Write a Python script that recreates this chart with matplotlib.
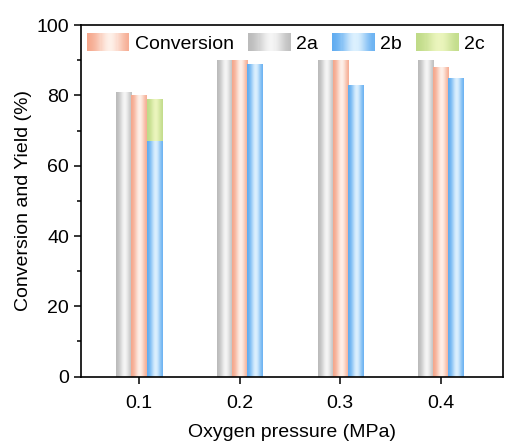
import numpy as np
import matplotlib
matplotlib.use("Agg")
import matplotlib.pyplot as plt
from matplotlib.patches import Rectangle
from matplotlib.legend_handler import HandlerBase

plt.rcParams['font.family'] = ['Liberation Sans', 'DejaVu Sans']

pressure = [0.1, 0.2, 0.3, 0.4]
pressure_labels = ['0.1', '0.2', '0.3', '0.4']
yield_2a = [81, 90, 90, 90]
conversion = [80, 90, 90, 88]
yield_2b = [67, 89, 83, 85]
yield_2c = [12, 0, 0, 0]

edge_colors = {
    'gray': (0.72, 0.72, 0.72),
    'salmon': (0.96, 0.64, 0.53),
    'blue': (0.35, 0.66, 0.94),
    'green': (0.74, 0.85, 0.52),
}
center_colors = {
    'gray': (0.96, 0.96, 0.96),
    'salmon': (0.995, 0.94, 0.91),
    'blue': (0.86, 0.94, 0.995),
    'green': (0.92, 0.96, 0.74),
}


def profile(n):
    t = np.linspace(0, 1, n)
    return np.exp(-((t - 0.55) / 0.32) ** 2)


def gradient_row(key, n=64):
    f = profile(n)[:, None]
    e = np.array(edge_colors[key])
    c = np.array(center_colors[key])
    return (e + (c - e) * f)[None, :, :]


fig = plt.figure(figsize=(5.14, 4.41), dpi=100)
ax = fig.add_axes([0.157, 0.146, 0.822, 0.797])

width = 0.015
x = np.array(pressure)


def grad_bars(xpos, heights, key, bottom=None):
    bars = ax.bar(xpos, heights, width, bottom=bottom, color='none',
                  edgecolor='none', zorder=2)
    img = gradient_row(key)
    for b in bars:
        h = b.get_height()
        if h <= 0:
            continue
        x0 = b.get_x()
        y0 = b.get_y()
        im = ax.imshow(img, extent=(x0, x0 + b.get_width(), y0, y0 + h),
                       aspect='auto', interpolation='bilinear', zorder=2)
        im.set_clip_path(b)
    return bars


grad_bars(x - width, yield_2a, 'gray')
grad_bars(x, conversion, 'salmon')
grad_bars(x + width, yield_2b, 'blue')
grad_bars(x + width, yield_2c, 'green', bottom=yield_2b)


class GradHandler(HandlerBase):
    def __init__(self, key):
        super().__init__()
        self.key = key

    def create_artists(self, legend, orig_handle, xdescent, ydescent,
                       width, height, fontsize, trans):
        n = 40
        row = gradient_row(self.key, n)[0]
        arts = []
        w = width / n
        for i in range(n):
            r = Rectangle((-xdescent + i * w, -ydescent), w * 1.05, height,
                          facecolor=row[i], edgecolor='none', transform=trans)
            arts.append(r)
        return arts


fs = 14
keys = ['salmon', 'gray', 'blue', 'green']
labels = ['Conversion', '2a', '2b', '2c']
handles = [Rectangle((0, 0), 1, 1) for _ in keys]
ax.legend(handles, labels,
          handler_map={h: GradHandler(k) for h, k in zip(handles, keys)},
          loc='upper left', bbox_to_anchor=(0.0, 0.995), ncol=4, frameon=False,
          fontsize=fs, handlelength=2.2, handleheight=1.1,
          handletextpad=0.3, columnspacing=0.7, borderpad=0.3,
          borderaxespad=0.0)

ax.set_xlim(0.042, 0.462)
ax.set_ylim(0, 100)
ax.set_xticks(pressure)
ax.set_xticklabels(pressure_labels)
ax.set_yticks([0, 20, 40, 60, 80, 100])
ax.set_yticks([10, 30, 50, 70, 90], minor=True)
ax.tick_params(axis='both', which='major', direction='out', length=5,
               width=1.1, labelsize=fs)
ax.tick_params(axis='x', which='major', pad=8)
ax.tick_params(axis='y', which='minor', direction='out', length=3, width=1.1)
for s in ax.spines.values():
    s.set_linewidth(1.2)

ax.set_xlabel('Oxygen pressure (MPa)', fontsize=fs, labelpad=9)
ax.set_ylabel('Conversion and Yield (%)', fontsize=fs, labelpad=3)

fig.savefig('out.png', dpi=100)
